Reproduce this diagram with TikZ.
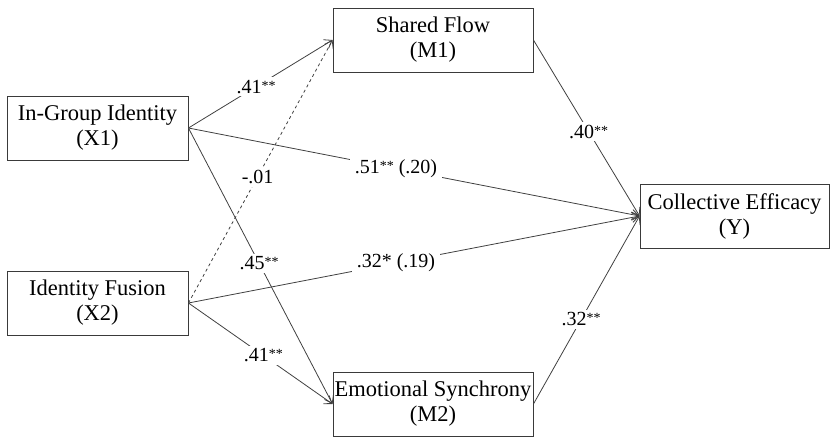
\documentclass[tikz,border=0pt]{standalone}
\usepackage{fontspec}
\setmainfont{Liberation Serif}
\usetikzlibrary{arrows.meta}
\definecolor{Frame}{HTML}{3A3A3A}
\definecolor{Link}{HTML}{404040}
\tikzset{
  varbox/.style={draw=Frame,line width=.9pt,inner sep=0pt,minimum height=64pt,
    align=center,font=\fontsize{22.5}{25}\selectfont},
  effect/.style={draw=Link,line width=.8pt,-{Straight Barb[length=7pt,width=10pt]}},
  coef/.style={fill=white,inner xsep=5pt,inner ysep=3pt,font=\fontsize{20}{22}\selectfont}
}
\newcommand{\stars}[1]{\raisebox{3pt}{\fontsize{14}{14}\selectfont #1}}

\begin{document}
\begin{tikzpicture}[x=1pt,y=1pt]
\path[use as bounding box] (0,0) rectangle (831,437);
% predictors, mediators, outcome
\node[varbox,minimum width=181pt] (x1) at (97.5,309) {In-Group Identity\\(X1)};
\node[varbox,minimum width=181pt] (x2) at (97.5,134) {Identity Fusion\\(X2)};
\node[varbox,minimum width=200pt] (m1) at (433,397) {Shared Flow\\(M1)};
\node[varbox,minimum width=200pt] (m2) at (433,33) {Emotional Synchrony\\(M2)};
\node[varbox,minimum width=189pt] (y) at (734.5,221) {Collective Efficacy\\(Y)};

% a paths
\draw[effect] (x1.east) -- node[coef,pos=.47] {.41\stars{**}} (m1.west);
\draw[effect,dashed] (x2.east) -- node[coef,pos=.48] {-.01} (m1.west);
\draw[effect] (x1.east) -- node[coef,pos=.49] {.45\stars{**}} (m2.west);
\draw[effect] (x2.east) -- node[coef,pos=.52] {.41\stars{**}} (m2.west);
% direct paths
\draw[effect] (x1.east) -- node[coef,pos=.46] {.51\stars{**} (.20)} (y.west);
\draw[effect] (x2.east) -- node[coef,pos=.46] {.32* (.19)} (y.west);
% b paths
\draw[effect] (m1.east) -- node[coef,pos=.52] {.40\stars{**}} (y.west);
\draw[effect] (m2.east) -- node[coef,pos=.45] {.32\stars{**}} (y.west);
\end{tikzpicture}
\end{document}
